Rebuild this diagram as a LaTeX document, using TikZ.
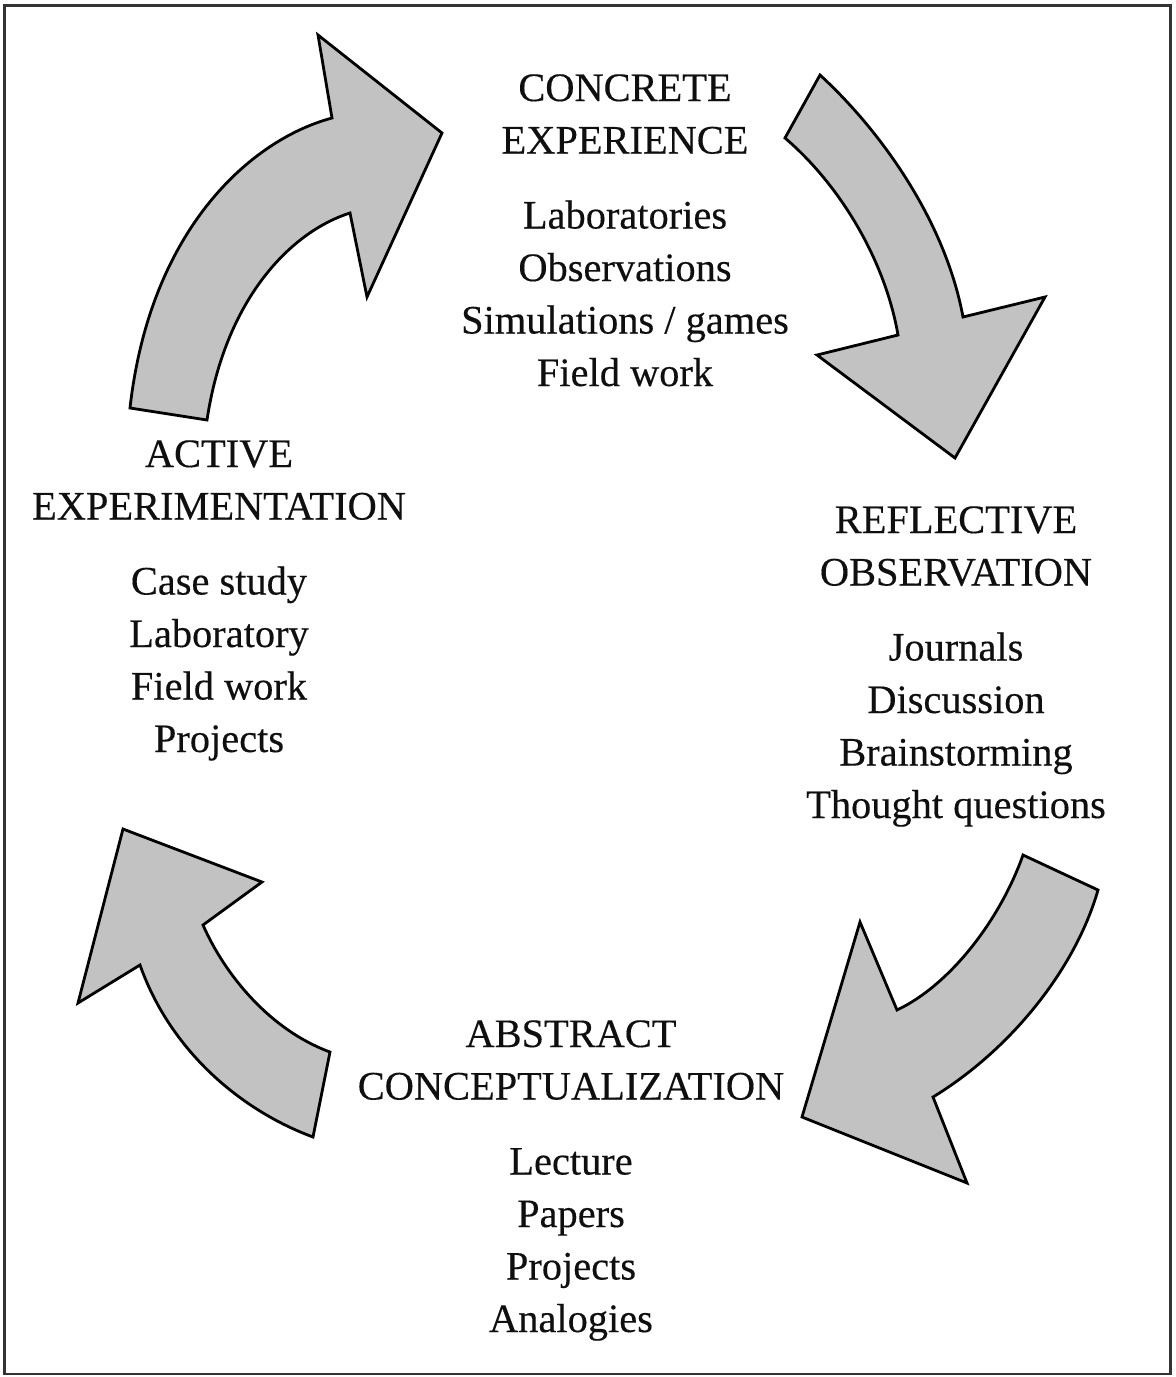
\documentclass[tikz,border=0pt]{standalone}
\usepackage{fontspec}
\setmainfont{Liberation Serif}[FakeBold=0.3]
\definecolor{arrowgray}{RGB}{194,194,194}
\definecolor{inkcolor}{RGB}{15,15,15}
\begin{document}
\begin{tikzpicture}[x=0.5pt,y=-0.5pt,
  cyclearrow/.style={fill=arrowgray, draw=black, line width=1.4pt, line join=miter},
  stage/.style={anchor=base, inner sep=0pt, text=inkcolor,
                font=\fontsize{20.2}{26.25}\selectfont}]
\useasboundingbox (0,0) rectangle (1175,1377);

% frame
\draw[line width=1.3pt, draw=black!80] (4.5,5.7) rectangle (1170.5,1374);

% the four stages of the cycle
\node[stage] (ce) at (625,101) {\begin{tabular}[t]{@{}c@{}}CONCRETE\\EXPERIENCE\\[11.25pt]Laboratories\\Observations\\Simulations / games\\Field work\end{tabular}};
\node[stage] (ro) at (956,533) {\begin{tabular}[t]{@{}c@{}}REFLECTIVE\\OBSERVATION\\[11.25pt]Journals\\Discussion\\Brainstorming\\Thought questions\end{tabular}};
\node[stage] (ac) at (571,1047) {\begin{tabular}[t]{@{}c@{}}ABSTRACT\\CONCEPTUALIZATION\\[11.25pt]Lecture\\Papers\\Projects\\Analogies\end{tabular}};
\node[stage] (ae) at (219,467) {\begin{tabular}[t]{@{}c@{}}ACTIVE\\EXPERIMENTATION\\[11.25pt]Case study\\Laboratory\\Field work\\Projects\end{tabular}};

% curved block arrows between the stages
% active experimentation -> concrete experience
\draw[cyclearrow] (130,408) .. controls (150,230) and (250,140) .. (332,118)
  -- (318,35) -- (442,133) -- (367,297) -- (350,213)
  .. controls (290,232) and (225,300) .. (207,420) -- cycle;
% concrete experience -> reflective observation
\draw[cyclearrow] (820,75) .. controls (880,130) and (945,220) .. (963,317)
  -- (1045,297) -- (955,458) -- (817,355) -- (898,335)
  .. controls (885,260) and (840,185) .. (785,138) -- cycle;
% reflective observation -> abstract conceptualization
\draw[cyclearrow] (1023,855) -- (1098,890)
  .. controls (1075,970) and (1010,1050) .. (933,1097)
  -- (967,1183) -- (802,1117) -- (860,922) -- (897,1010)
  .. controls (950,985) and (1000,920) .. (1023,855) -- cycle;
% abstract conceptualization -> active experimentation
\draw[cyclearrow] (330,1052) -- (313,1137)
  .. controls (240,1110) and (170,1050) .. (140,965)
  -- (78,1003) -- (123,829) -- (262,882) -- (203,925)
  .. controls (225,975) and (270,1030) .. (330,1052) -- cycle;
\end{tikzpicture}
\end{document}
